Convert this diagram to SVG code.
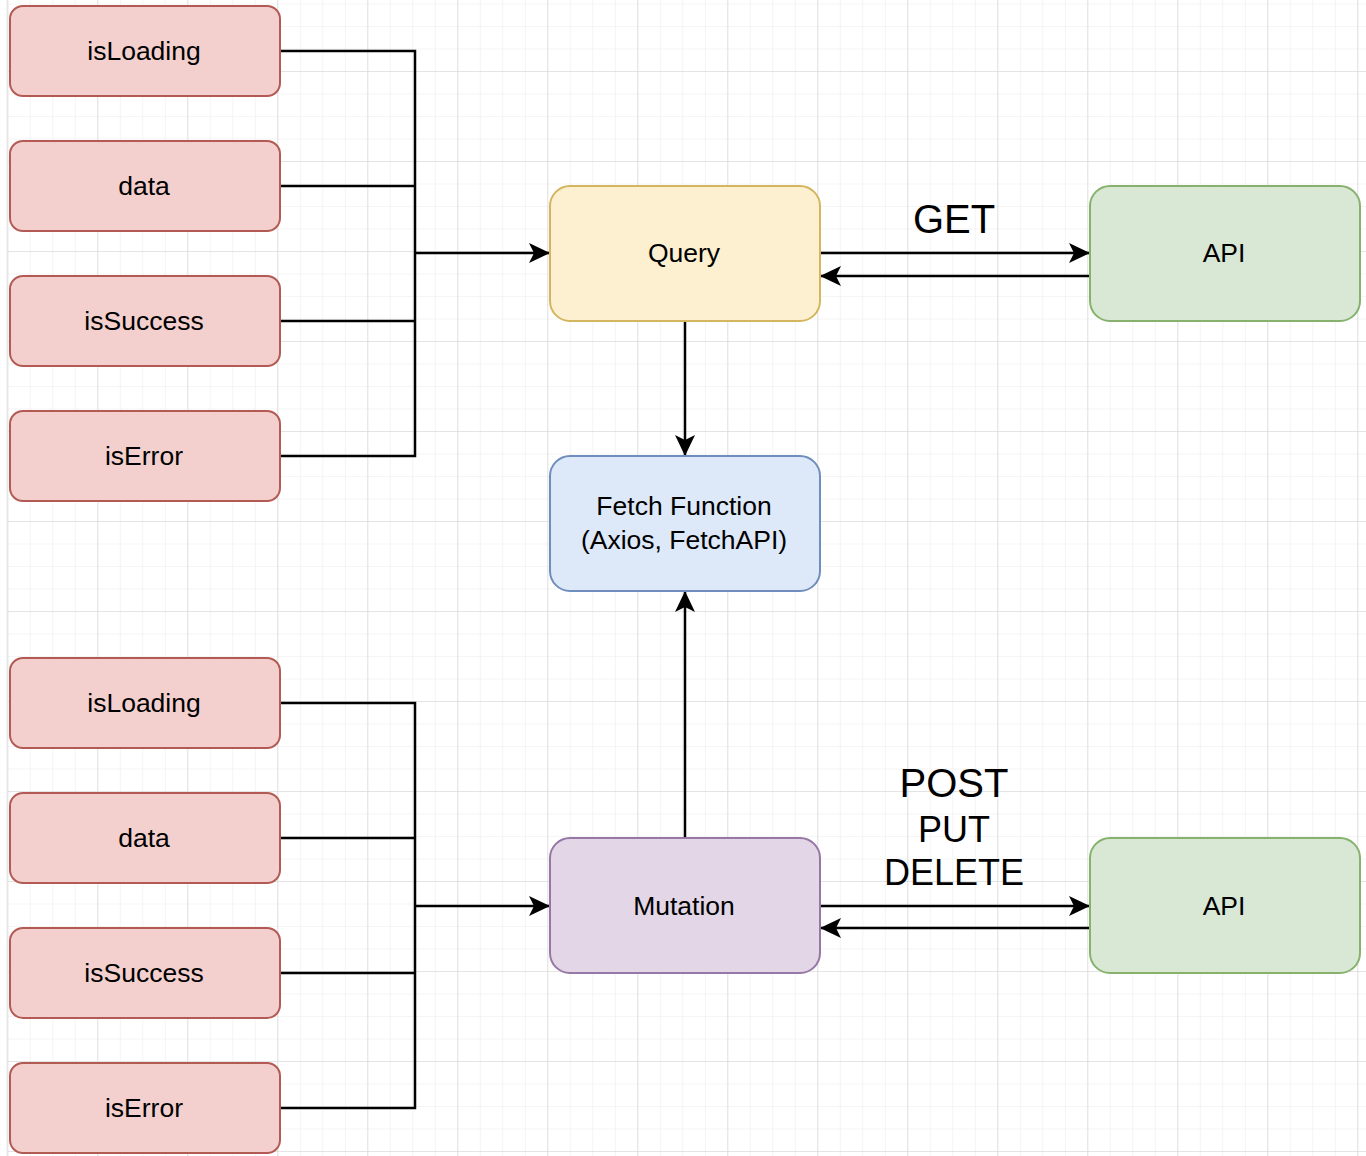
<svg xmlns="http://www.w3.org/2000/svg" width="1366" height="1156" viewBox="0 0 1366 1156">
<defs>
<pattern id="minor" x="7.3" y="3.5" width="22.5" height="22.5" patternUnits="userSpaceOnUse">
<path d="M0 0 V22.5 M0 0 H22.5" fill="none" stroke="#ececec" stroke-width="1.2"/>
</pattern>
<pattern id="major" x="7.3" y="71" width="90" height="90" patternUnits="userSpaceOnUse">
<path d="M0 0 V90 M0 0 H90" fill="none" stroke="#d3d3d3" stroke-width="1.2"/>
</pattern>
<marker id="arr" markerUnits="userSpaceOnUse" markerWidth="24" markerHeight="24" viewBox="-1 -11 24 22" refX="21" refY="0" orient="auto">
<path d="M0,-10 L21,0 L0,10 L5,0 Z" fill="#000"/>
</marker>
</defs>
<style>
.n rect{stroke-width:2}
.red rect{fill:#f3d0ce;stroke:#b35a55}
.yel rect{fill:#fcf0d0;stroke:#d4b65e}
.blu rect{fill:#dde8f9;stroke:#6f8ebd}
.pur rect{fill:#e2d6e7;stroke:#9677a5}
.grn rect{fill:#d9e7d5;stroke:#86b26d}
.n text{font-family:"Liberation Sans",Arial,sans-serif;font-size:26.5px;text-anchor:middle;fill:#000}
.c path{fill:none;stroke:#000;stroke-width:2.5}
.lbl{font-family:"Liberation Sans",Arial,sans-serif;text-anchor:middle;fill:#000}
</style>
<rect x="0" y="0" width="1366" height="1156" fill="#fff"/>
<rect x="7" y="0" width="1359" height="1156" fill="url(#minor)"/>
<rect x="7" y="0" width="1359" height="1156" fill="url(#major)"/>
<line x1="7.3" y1="0" x2="7.3" y2="1156" stroke="#e6e6e6" stroke-width="1.5"/>

<g id="connectors" class="c">
<path d="M280,51 H415 V456 H280"/>
<path d="M280,186 H415"/>
<path d="M280,321 H415"/>
<path d="M415,253 H550" marker-end="url(#arr)"/>
<path d="M280,703 H415 V1108 H280"/>
<path d="M280,838 H415"/>
<path d="M280,973 H415"/>
<path d="M415,906 H550" marker-end="url(#arr)"/>
<path d="M685,321 V456" marker-end="url(#arr)"/>
<path d="M685,838 V591" marker-end="url(#arr)"/>
<path d="M820,253 H1090" marker-end="url(#arr)"/>
<path d="M1090,276 H820" marker-end="url(#arr)"/>
<path d="M820,906 H1090" marker-end="url(#arr)"/>
<path d="M1090,928 H820" marker-end="url(#arr)"/>
</g>

<g id="q-isLoading" class="n red"><rect x="10" y="6" width="270" height="90" rx="13"/><text x="144" y="60">isLoading</text></g>
<g id="q-data" class="n red"><rect x="10" y="141" width="270" height="90" rx="13"/><text x="144" y="195">data</text></g>
<g id="q-isSuccess" class="n red"><rect x="10" y="276" width="270" height="90" rx="13"/><text x="144" y="330">isSuccess</text></g>
<g id="q-isError" class="n red"><rect x="10" y="411" width="270" height="90" rx="13"/><text x="144" y="465">isError</text></g>

<g id="m-isLoading" class="n red"><rect x="10" y="658" width="270" height="90" rx="13"/><text x="144" y="712">isLoading</text></g>
<g id="m-data" class="n red"><rect x="10" y="793" width="270" height="90" rx="13"/><text x="144" y="847">data</text></g>
<g id="m-isSuccess" class="n red"><rect x="10" y="928" width="270" height="90" rx="13"/><text x="144" y="982">isSuccess</text></g>
<g id="m-isError" class="n red"><rect x="10" y="1063" width="270" height="90" rx="13"/><text x="144" y="1117">isError</text></g>

<g id="query" class="n yel"><rect x="550" y="186" width="270" height="135" rx="20"/><text x="684" y="261.5">Query</text></g>
<g id="fetch" class="n blu"><rect x="550" y="456" width="270" height="135" rx="20"/><text x="684" y="515">Fetch Function</text><text x="684" y="548.5">(Axios, FetchAPI)</text></g>
<g id="mutation" class="n pur"><rect x="550" y="838" width="270" height="135" rx="20"/><text x="684" y="914.5">Mutation</text></g>
<g id="api-top" class="n grn"><rect x="1090" y="186" width="270" height="135" rx="20"/><text x="1224" y="261.5">API</text></g>
<g id="api-bottom" class="n grn"><rect x="1090" y="838" width="270" height="135" rx="20"/><text x="1224" y="914.5">API</text></g>

<g id="labels">
<text class="lbl" x="954" y="233" font-size="40">GET</text>
<text class="lbl" x="954" y="797" font-size="40">POST</text>
<text class="lbl" x="954" y="842" font-size="36">PUT</text>
<text class="lbl" x="954" y="885" font-size="36">DELETE</text>
</g>
</svg>
